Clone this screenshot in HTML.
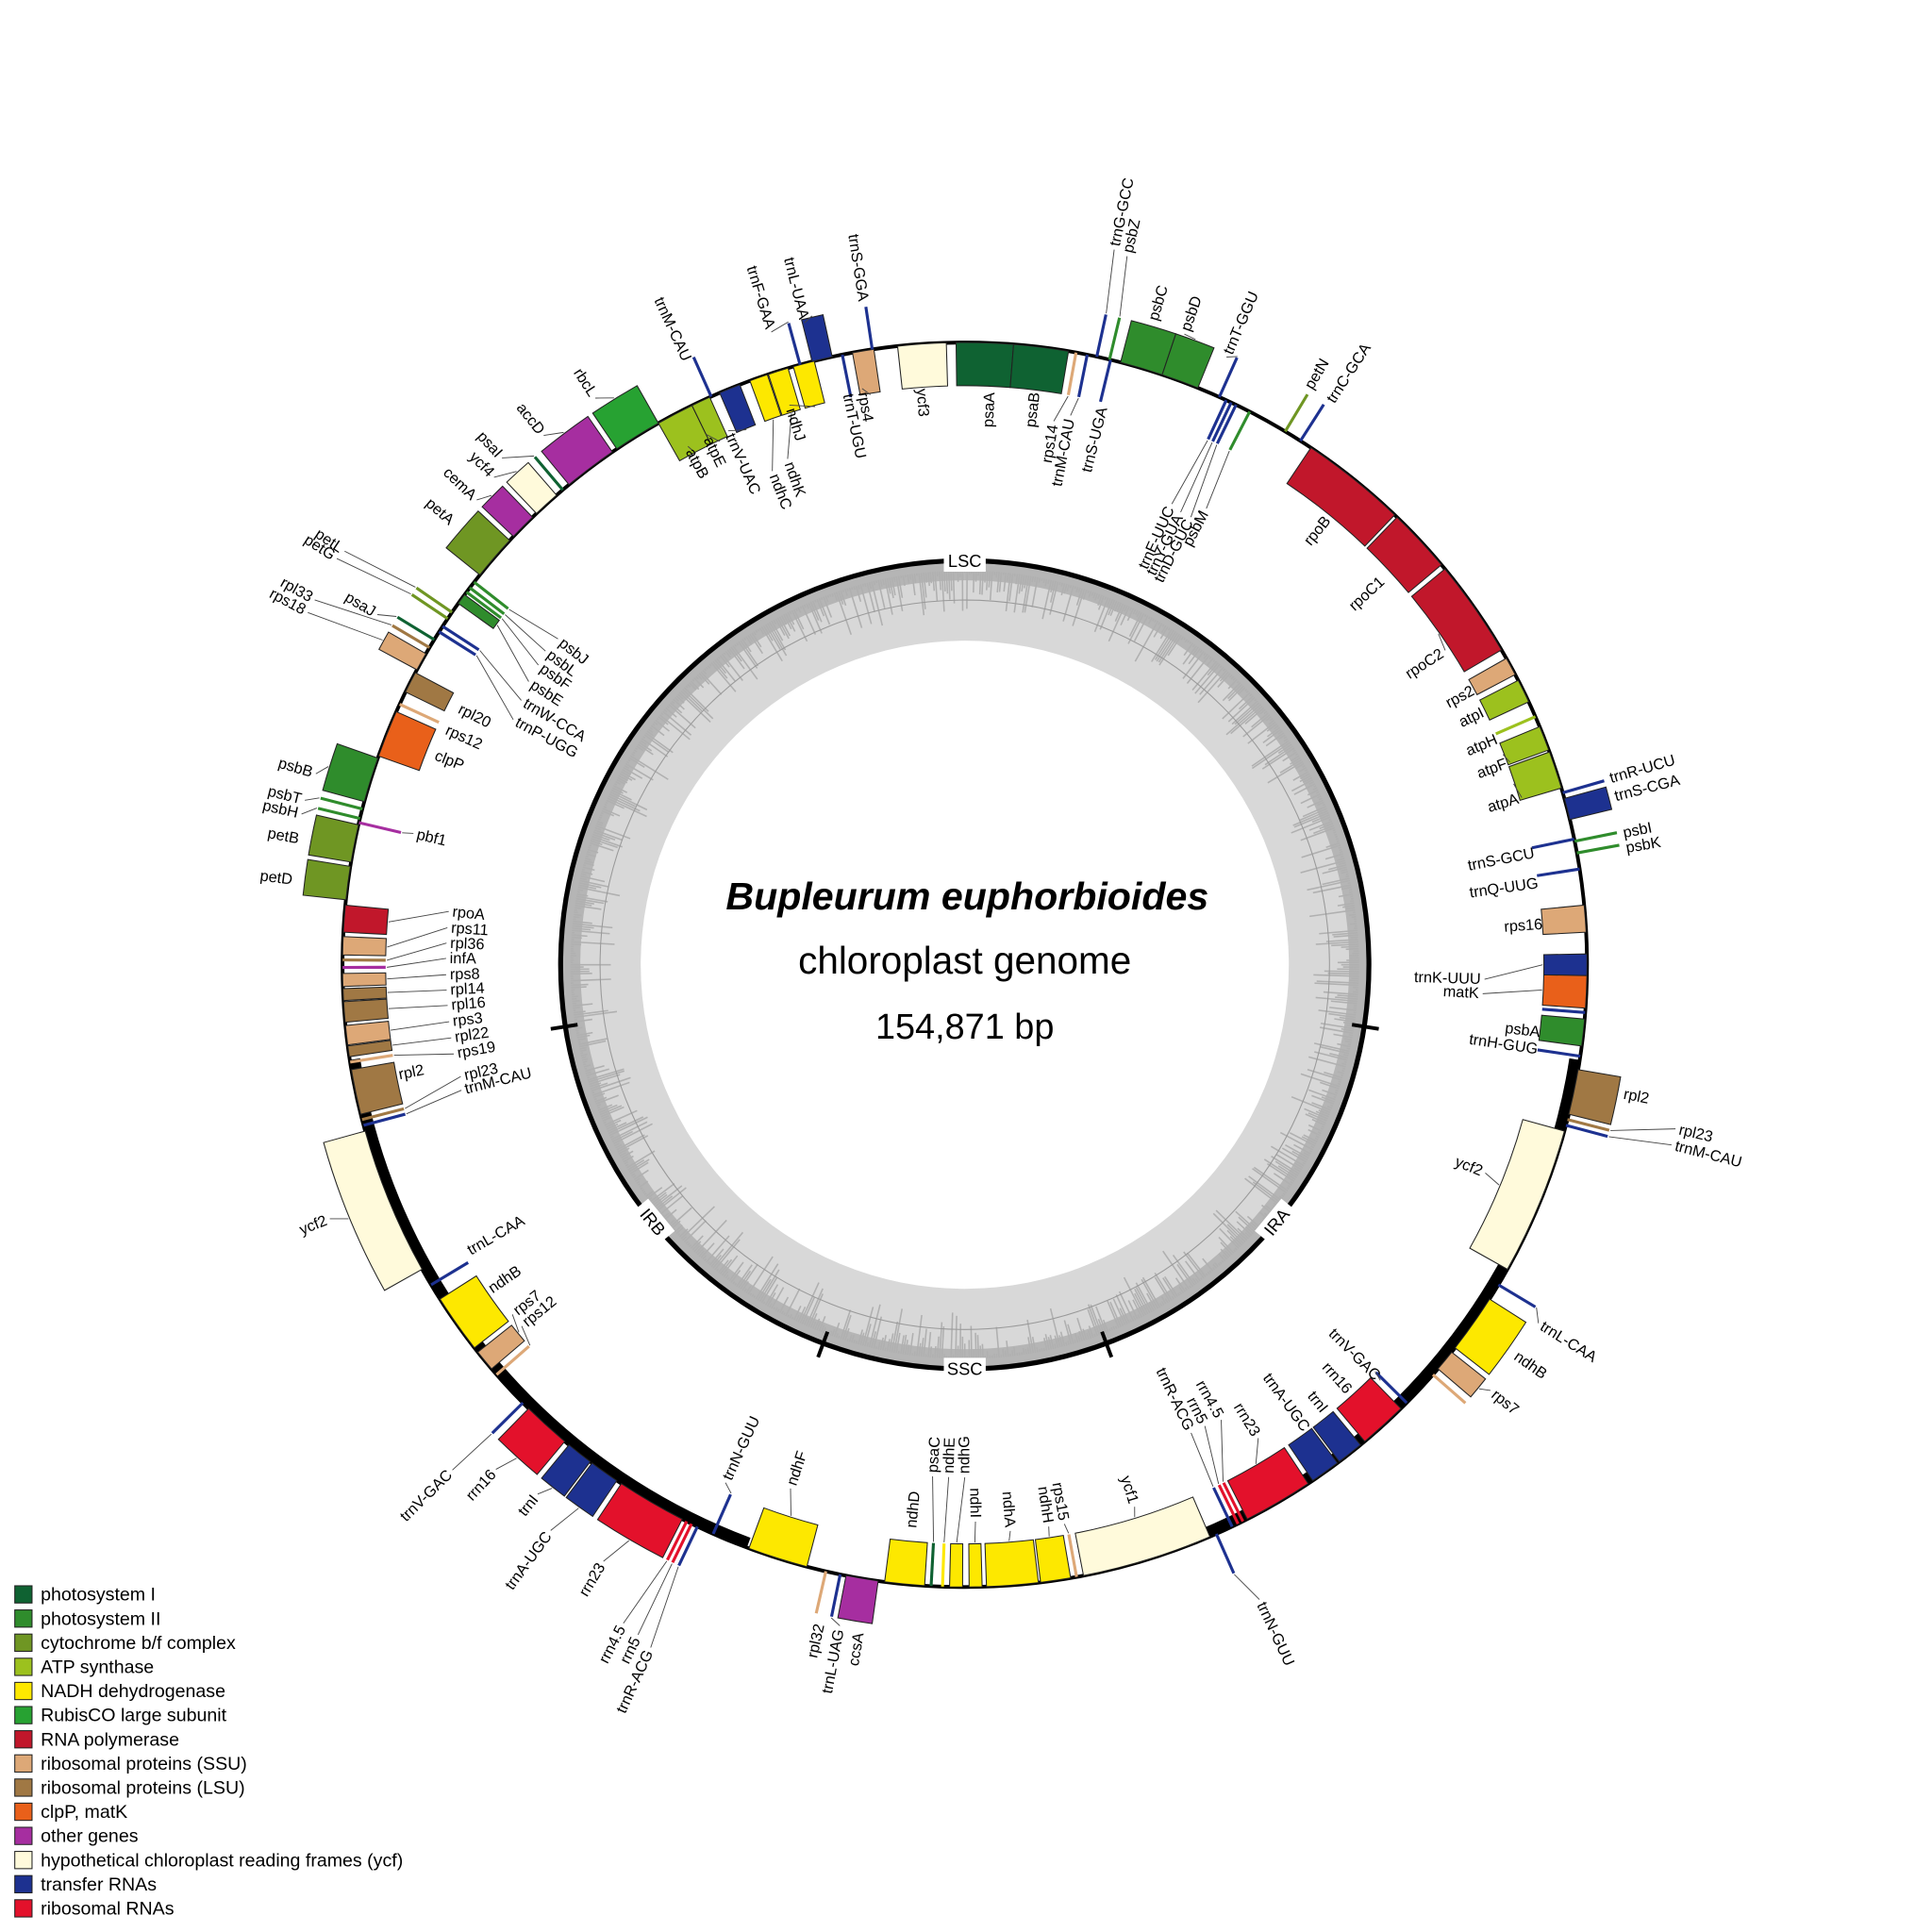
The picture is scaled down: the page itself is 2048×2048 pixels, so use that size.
<!DOCTYPE html>
<html><head><meta charset="utf-8"><style>
html,body{margin:0;padding:0;background:#fff}
svg{display:block}
text{font-family:"Liberation Sans",sans-serif}
</style></head><body>
<svg id="s" xmlns="http://www.w3.org/2000/svg" width="2048" height="2048" viewBox="0 0 1568 1568">
<rect width="1568" height="1568" fill="#fff"/>
<g id="ring"></g>
<g id="genes"></g>
<g id="labels"></g>
<text x="785" y="738" text-anchor="middle" font-size="31.5" font-weight="bold" font-style="italic">Bupleurum euphorbioides</text>
<text x="783" y="790" text-anchor="middle" font-size="31">chloroplast genome</text>
<text x="783" y="843" text-anchor="middle" font-size="29">154,871 bp</text>
<g id="legend"></g>
</svg>
<script>
const NS="http://www.w3.org/2000/svg";
const cx=783,cy=783,R=505;
const C={P1:'#0f6232',P2:'#2f8c2c',CY:'#6f9623',AT:'#9cc11e',ND:'#fde800',RB:'#27a232',RP:'#c1172b',S:'#dda877',L:'#a07844',CL:'#e9601a',OT:'#a62ea0',Y:'#fffadb',T:'#1d3190',R:'#e3112b'};
function pt(r,a){const t=a*Math.PI/180;return [cx+r*Math.sin(t),cy-r*Math.cos(t)];}
function el(tag,attrs,parent,txt){const e=document.createElementNS(NS,tag);for(const k in attrs)e.setAttribute(k,attrs[k]);if(txt!==undefined)e.textContent=txt;parent.appendChild(e);return e;}
function sector(r1,r2,a1,a2){const p1=pt(r2,a1),p2=pt(r2,a2),p3=pt(r1,a2),p4=pt(r1,a1);const L=(a2-a1)>180?1:0;
return `M${p1[0]},${p1[1]}A${r2},${r2} 0 ${L} 1 ${p2[0]},${p2[1]}L${p3[0]},${p3[1]}A${r1},${r1} 0 ${L} 0 ${p4[0]},${p4[1]}Z`;}
function arc(r,a1,a2){const p1=pt(r,a1),p2=pt(r,a2);const L=(a2-a1)>180?1:0;return `M${p1[0]},${p1[1]}A${r},${r} 0 ${L} 1 ${p2[0]},${p2[1]}`;}
const ring=document.getElementById('ring');
el('circle',{cx,cy,r:327,fill:'#d8d8d8'},ring);
el('path',{d:sector(312,327,0,359.99),fill:'#b5b5b5'},ring);
let seed=7;function rnd(){seed=(seed*16807)%2147483647;return seed/2147483647;}
let d='';
for(let i=0;i<1080;i++){const a=i/3;const len=8+Math.pow(rnd(),2.6)*36;const p1=pt(320,a),p2=pt(326-len,a);d+=`M${p1[0].toFixed(1)},${p1[1].toFixed(1)}L${p2[0].toFixed(1)},${p2[1].toFixed(1)}`;}
el('path',{d,stroke:'#b0b0b0','stroke-width':1.2,fill:'none'},ring);
el('circle',{cx,cy,r:296,fill:'none',stroke:'#999','stroke-width':0.8},ring);
el('circle',{cx,cy,r:263,fill:'#fff'},ring);
el('circle',{cx,cy,r:328,fill:'none',stroke:'#000','stroke-width':4},ring);
[98.8,159.5,200.5,261.2].forEach(a=>{const p1=pt(318,a),p2=pt(340,a);el('line',{x1:p1[0],y1:p1[1],x2:p2[0],y2:p2[1],stroke:'#000','stroke-width':3},ring);});
function boxLabel(t,a,rot){const p=pt(328,a);const g=el('g',{transform:`translate(${p[0]},${p[1]}) rotate(${rot})`},ring);
el('rect',{x:-17,y:-9,width:34,height:18,fill:'#fff'},g);el('text',{x:0,y:5,'text-anchor':'middle','font-size':14},g,t);}
boxLabel('LSC',0,0);boxLabel('SSC',180,0);boxLabel('IRA',129.5,-50.5);boxLabel('IRB',230.5,50.5);
el('circle',{cx,cy,r:R,fill:'none',stroke:'#000','stroke-width':3},ring);
el('path',{d:arc(501,98.8,159.5),fill:'none',stroke:'#000','stroke-width':9},ring);
el('path',{d:arc(501,200.5,261.2),fill:'none',stroke:'#000','stroke-width':9},ring);

const G=[
['rps19',260.7,261.3,'i','S',260.1,418],['rpl22',261.5,262.5,'i','L',261.9,418],['rps3',262.6,264.4,'i','S',263.7,418],
['rpl16',264.7,266.6,'i','L',265.5,418],['rpl14',266.7,267.8,'i','L',267.2,418],['rps8',268,269.2,'i','S',268.9,418],
['infA',269.5,270,'i','OT',270.7,418],['rpl36',270.2,270.7,'i','L',272.4,418],['rps11',270.9,272.6,'i','S',274.1,418],
['rpoA',273,275.5,'i','RP',275.9,418],['petD',276,279.1,'o','CY',277.2,550],['petB',279.5,283,'o','CY',280.7,550],
['psbH',283.4,283.8,'o','P2',282.8,555],['psbT',284.3,284.7,'o','P2',284,555],['pbf1',283,283.4,'i','OT',283.4,457],
['psbB',285.2,289.4,'o','P2',286.4,552],['clpP',289.6,294,'i','CL',291.6,462],['rps12',294.5,295,'i','S',294.4,462],
['rpl20',296,298,'i','L',296.9,460],['rps18',298.3,300,'o','S',298.2,608],['rpl33',300.3,301,'o','L',299.3,608],
['psaJ',301.3,301.7,'o','P1',300.8,558],['trnP-UGG',302.2,302.5,'i','T',298.5,414],['trnW-CCA',302.8,303.1,'i','T',300.8,416],
['petG',303.6,304,'o','CY',302.9,610],['petL',304.3,304.7,'o','CY',303.7,608],['psbE',305.5,306.5,'i','P2',303,419],
['psbF',306.6,307,'i','P2',305.1,420],['psbL',307.1,307.5,'i','P2',306.8,422],['psbJ',307.7,308.2,'i','P2',308.7,420],
['petA',308.8,313,'o','CY',310.8,550],['cemA',313.5,316,'o','OT',313.6,550],['ycf4',316.5,319,'o','Y',316,553],
['psaI',319.5,320,'o','P1',317.6,560],['accD',320.5,325.5,'o','OT',321.5,552],['rbcL',326,330.5,'o','RB',326.9,552],
['atpB',330.5,334,'i','AT',331.9,474],['atpE',334,335.8,'i','AT',334,476],['trnM-CAU',335.8,336.1,'o','T',335.3,540],
['trnV-UAC',336.8,338.8,'i','T',336.1,471],['ndhC',339.8,341.5,'i','ND',338.7,427],['ndhK',341.6,343.5,'i','ND',340.7,432],
['ndhJ',344,346,'i','ND',342.6,473],['trnF-GAA',344.5,344.8,'o','T',343,540],['trnL-UAA',345.8,347.7,'o','T',346,540],
['trnT-UGU',348.5,348.8,'i','T',348.4,473],['rps4',349.6,351.6,'i','S',349.9,472],['trnS-GGA',351.3,351.6,'o','T',351.3,545],
['ycf3',353.8,358.3,'i','Y',355.7,469],['psaA',-0.8,4.5,'i','P1',2.5,465],['psaB',4.5,9.6,'i','P1',7,468],
['rps14',9.9,10.7,'i','S',9.3,444],['trnM-CAU',11.2,11.5,'i','T',10.9,451],['trnG-GCC',12.1,12.4,'o','T',11.8,596],
['trnS-UGA',13.4,13.7,'i','T',13.9,466],['psbZ',13.2,13.7,'o','P2',12.9,593],['psbC',14.5,18.5,'o','P2',16.3,545],
['psbD',18.5,22,'o','P2',19.2,545],['trnT-GGU',24,24.3,'o','T',23.3,540],['trnE-UUC',24.7,25,'i','T',24.2,407],
['trnY-GUA',25.2,25.5,'i','T',25.5,404],['trnD-GUC',25.7,26,'i','T',26.8,404],['psbM',27,27.5,'i','P2',27.9,416],
['petN',30.8,31.2,'o','CY',30.8,545],['trnC-GCA',32.5,32.8,'o','T',33,545],['rpoB',33.8,43.7,'i','RP',39.1,467],
['rpoC1',44,50,'i','RP',47.3,461],['rpoC2',50.5,59.6,'i','RP',56.8,463],['rps2',60.5,62.2,'i','S',61.6,469],
['atpI',62.8,65,'i','AT',64,468],['atpH',66.2,66.8,'i','AT',67,469],['atpF',67.5,69.8,'i','AT',69.6,469],
['atpA',70,73.5,'i','AT',73.3,469],['trnR-UCU',73.8,74.1,'o','T',73.9,545],['trnS-CGA',74.5,76.5,'o','T',75.5,545],
['trnS-GCU',78.2,78.5,'i','T',78.9,471],['psbI',78.4,78.7,'o','P2',78.7,545],['psbK',79.4,79.9,'o','P2',80,545],
['trnQ-UUG',81,81.3,'i','T',81.9,470],['rps16',84.5,87,'i','S',86,470],['trnK-UUU',89,91,'i','T',91.6,419],
['matK',91,94,'i','CL',93.2,418],['',94.2,94.6,'i','T'],['psbA',95,97.5,'i','P2',96.7,470],
['trnH-GUG',98.3,98.6,'i','T',98.4,470],
['rpl2',99.7,103.9,'o','L',101.1,545],['rpl23',104.2,104.6,'o','L',103,595],['trnM-CAU',104.8,105.1,'o','T',104.3,595],
['ycf2',105.5,119.3,'i','Y',111.8,452],['trnL-CAA',120.8,121.1,'o','T',122,552],['ndhB',122.5,128,'o','ND',125.3,548],
['rps7',128.5,130.5,'o','S',129,552],['',131,131.4,'o','S'],['trnV-GAC',134.6,134.9,'i','T',135,474],
['rrn16',135.5,140,'i','R',138,466],['trnI',140.5,143,'i','T',141.1,465],['trnA-UGC',143.2,146,'i','T',143.7,468],
['rrn23',146.5,153,'i','R',148.2,449],['rrn4.5',153.3,153.6,'i','R',150.6,421],['rrn5',153.8,154.1,'i','R',152.5,419],
['trnR-ACG',154.4,154.7,'i','T',154.2,419],['trnN-GUU',156,156.3,'o','T',155.1,571],
['ycf1',156.8,169,'i','Y',162.6,458],['rps15',169.3,170,'i','S',169.9,458],['ndhH',170.2,173,'i','ND',171.5,458],
['ndhA',173.2,178,'i','ND',175.4,458],['ndhI',178.4,179.6,'i','ND',178.9,449],['ndhG',180.2,181.4,'i','ND',180,413],
['ndhE',181.7,182.4,'i','ND',181.8,413],['psaC',182.8,183.4,'i','P1',183.6,413],['ndhD',183.7,187.4,'i','ND',185.4,459],
['ccsA',188,191,'o','OT',189,549],['trnL-UAG',191.4,191.7,'o','T',190.7,549],['rpl32',192.7,193.1,'o','S',192.4,548],
['ndhF',194.7,200.3,'i','ND',198.4,445],
['trnN-GUU',203.7,204,'i','T',204.8,460],['trnR-ACG',205.3,205.6,'o','T',204.7,613],['rrn5',205.9,206.2,'o','R',206,608],
['rrn4.5',206.4,206.7,'o','R',207.4,605],['rrn23',207,213.5,'o','R',211.2,569],['trnA-UGC',214,216.8,'o','T',216.2,572],
['trnI',217,219.5,'o','T',218.9,555],['rrn16',220,224.5,'o','R',222.9,562],['trnV-GAC',225.1,225.4,'o','T',225.4,587],
['rps12',228.6,229,'i','S',230.8,461],['rps7',229.5,231.5,'i','S',232.3,461],['ndhB',232,237.5,'i','ND',235.6,467],
['trnL-CAA',238.9,239.2,'i','T',240,465],['ycf2',240.7,254.5,'o','Y',248.2,558],['trnM-CAU',254.9,255.2,'i','T',256,418],
['rpl23',255.4,255.8,'i','L',257.5,416],['rpl2',256.1,260.3,'i','L',259,468]
];
const gg=document.getElementById('genes'),lg=document.getElementById('labels');
G.forEach(g=>{
  const [name,s,e,side,ck,la,lr]=g;const col=C[ck];
  const r1=side==='o'?R:470,r2=side==='o'?540:R;const mid=(s+e)/2;
  if(e-s<1){const p1=pt(r1,mid),p2=pt(r2,mid);el('line',{x1:p1[0],y1:p1[1],x2:p2[0],y2:p2[1],stroke:col,'stroke-width':2.4},gg);}
  else el('path',{d:sector(r1,r2,s,e),fill:col,stroke:'#222','stroke-width':0.8},gg);
  if(!name)return;
  const a=((la%360)+360)%360;
  const pe=pt(side==='o'?541:469,mid);const pl=pt(side==='o'?lr-3:lr+3,la);
  const dist=Math.hypot(pe[0]-pl[0],pe[1]-pl[1]);
  if(dist>8)el('line',{x1:pe[0],y1:pe[1],x2:pl[0],y2:pl[1],stroke:'#444','stroke-width':0.7},lg);
  const p=pt(lr,la);const right=a>0&&a<180;
  const rot=right?a-90:a+90;
  let anchor;if(side==='o')anchor=right?'start':'end';else anchor=right?'end':'start';
  el('text',{x:0,y:0,transform:`translate(${p[0].toFixed(1)},${p[1].toFixed(1)}) rotate(${rot.toFixed(1)})`,'text-anchor':anchor,'dominant-baseline':'central','font-size':12.5},lg,name);
});
const leg=document.getElementById('legend');
const LG=[['P1','photosystem I'],['P2','photosystem II'],['CY','cytochrome b/f complex'],['AT','ATP synthase'],['ND','NADH dehydrogenase'],['RB','RubisCO large subunit'],['RP','RNA polymerase'],['S','ribosomal proteins (SSU)'],['L','ribosomal proteins (LSU)'],['CL','clpP, matK'],['OT','other genes'],['Y','hypothetical chloroplast reading frames (ycf)'],['T','transfer RNAs'],['R','ribosomal RNAs']];
LG.forEach((l,i)=>{const y=1287+i*19.6;el('rect',{x:12,y:y,width:14,height:14,fill:C[l[0]],stroke:'#222','stroke-width':0.8},leg);
el('text',{x:33,y:y+12,'font-size':15},leg,l[1]);});
</script>
</body></html>
